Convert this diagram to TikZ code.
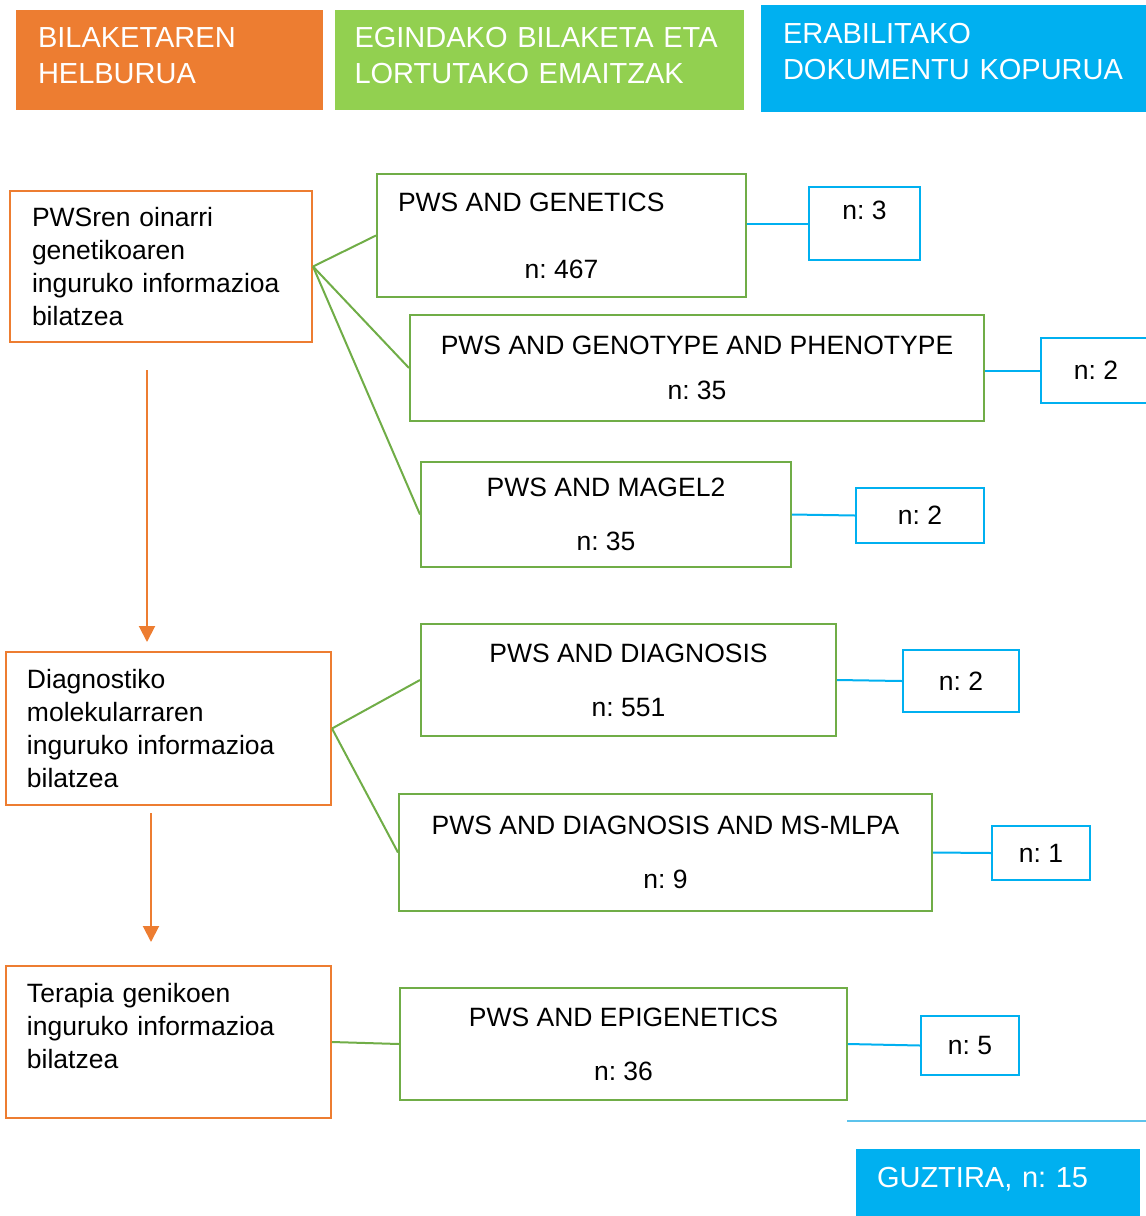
\documentclass[tikz,border=0pt]{standalone}
\usepackage{fontspec}
\setmainfont{Liberation Sans}
\usetikzlibrary{arrows.meta}
\definecolor{orangeH}{HTML}{ED7D31}
\definecolor{greenH}{HTML}{92D050}
\definecolor{greenL}{HTML}{70AD47}
\definecolor{blueH}{HTML}{00B0F0}
\definecolor{blueL}{HTML}{5CC3EC}
\frenchspacing
\begin{document}
\begin{tikzpicture}[x=1pt,y=-1pt,
  header/.style={fill=#1, text=white, inner sep=0pt, align=left, font=\fontsize{29}{36}\selectfont},
  goal/.style={draw=orangeH, line width=2pt, inner sep=0pt, align=left, font=\fontsize{26.5}{33}\selectfont},
  search/.style={draw=greenL, line width=2pt, inner sep=0pt, align=center, font=\fontsize{26.5}{33}\selectfont},
  count/.style={draw=blueH, line width=2pt, inner sep=0pt, font=\fontsize{26.5}{33}\selectfont},
  link/.style={greenL, line width=2pt},
  clink/.style={blueH, line width=2pt},
  flow/.style={orangeH, line width=2pt, -{Triangle[width=16pt,length=16pt]}}]
\useasboundingbox (0,0) rectangle (1146,1216);

% headers
\node[header=orangeH, minimum width=307, minimum height=100, text width=263, text depth=45pt] (hGoal) at (169.5,60) {BILAKETAREN\\HELBURUA};
\node[header=greenH, minimum width=409, minimum height=100, text width=370, text depth=45pt] (hSearch) at (539.5,60) {EGINDAKO BILAKETA ETA\\LORTUTAKO EMAITZAK};
\node[header=blueH, minimum width=389, minimum height=107, text width=345, text depth=50pt] (hCount) at (955.5,58.5) {ERABILITAKO\\DOKUMENTU KOPURUA};

% goals
\node[goal, minimum width=302, minimum height=151, text width=258] (goal1) at (161,266.5) {PWSren oinarri\\genetikoaren\\inguruko informazioa\\bilatzea};
\node[goal, minimum width=325, minimum height=153, text width=283] (goal2) at (168.5,728.5) {Diagnostiko\\molekularraren\\inguruko informazioa\\bilatzea};
\node[goal, minimum width=325, minimum height=152, text width=283] (goal3) at (168.5,1042) {Terapia genikoen\\inguruko informazioa\\bilatzea\\\mbox{}};

\coordinate (f1a) at (147,370);
\coordinate (f1b) at (147,642);
\coordinate (f2a) at (151,813);
\coordinate (f2b) at (151,942);
\draw[flow] (f1a) -- (f1b);
\draw[flow] (f2a) -- (f2b);

% searches
\node[search, minimum width=369, minimum height=123] (srch1) at (561.5,235.5) {\makebox[327pt][l]{PWS AND GENETICS}\\[34pt]n: 467};
\node[search, minimum width=574, minimum height=106] (srch2) at (697,368) {PWS AND GENOTYPE AND PHENOTYPE\\[12pt]n: 35};
\node[search, minimum width=370, minimum height=105] (srch3) at (606,514.5) {PWS AND MAGEL2\\[21pt]n: 35};
\node[search, minimum width=415, minimum height=112] (srch4) at (628.5,680) {PWS AND DIAGNOSIS\\[21pt]n: 551};
\node[search, minimum width=533, minimum height=117] (srch5) at (665.5,852.5) {PWS AND DIAGNOSIS AND MS-MLPA\\[21pt]n: 9};
\node[search, minimum width=447, minimum height=112] (srch6) at (623.5,1044) {PWS AND EPIGENETICS\\[21pt]n: 36};

\draw[link] (goal1.east) -- (srch1.west);
\draw[link] (goal1.east) -- (srch2.west);
\draw[link] (goal1.east) -- (srch3.west);
\draw[link] (goal2.east) -- (srch4.west);
\draw[link] (goal2.east) -- (srch5.west);
\draw[link] (goal3.east) -- (srch6.west);

% counts
\node[count, minimum width=111, minimum height=73, text depth=27pt] (cnt1) at (864.5,223.5) {n: 3};
\node[count, minimum width=110, minimum height=65] (cnt2) at (1096,370.5) {n: 2};
\node[count, minimum width=128, minimum height=55] (cnt3) at (920,515.5) {n: 2};
\node[count, minimum width=116, minimum height=62] (cnt4) at (961,681) {n: 2};
\node[count, minimum width=98, minimum height=54] (cnt5) at (1041,853) {n: 1};
\node[count, minimum width=98, minimum height=59] (cnt6) at (970,1045.5) {n: 5};

\draw[clink] (cnt1.west -| srch1.east) -- (cnt1.west);
\draw[clink] (cnt2.west -| srch2.east) -- (cnt2.west);
\draw[clink] (srch3.east) -- (cnt3.west);
\draw[clink] (srch4.east) -- (cnt4.west);
\draw[clink] (srch5.east) -- (cnt5.west);
\draw[clink] (srch6.east) -- (cnt6.west);

% total
\coordinate (sumA) at (847,1121);
\coordinate (sumB) at (1146,1121);
\draw[blueL, line width=2pt] (sumA) -- (sumB);
\node[header=blueH, minimum width=284, minimum height=67, text width=242, text depth=11pt] (total) at (998,1182.5) {GUZTIRA, n: 15};
\end{tikzpicture}
\end{document}
